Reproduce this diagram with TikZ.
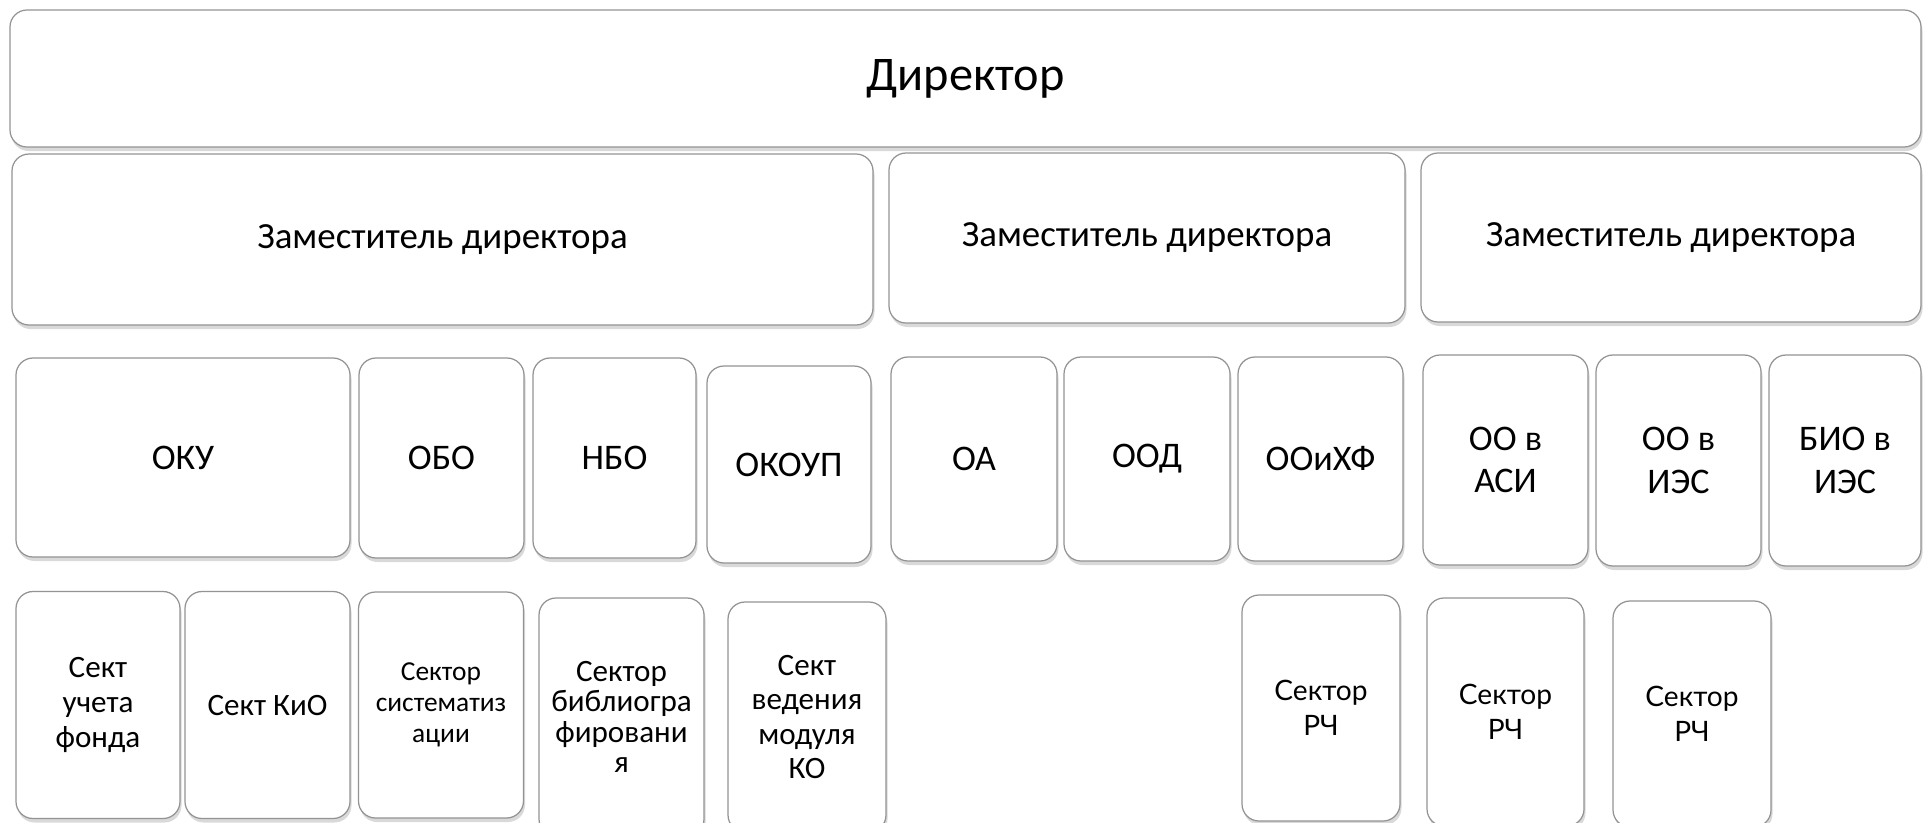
\documentclass[tikz,border=0pt]{standalone}
\usepackage{fontspec}
\setmainfont{Carlito}
\newfontfamily\rchfont{Lato}
\usetikzlibrary{shadows}

\begin{document}
\begin{tikzpicture}[x=0.2mm, y=-0.2mm,
  cell/.style={draw=gray!85, line width=0.7pt, fill=white, rounded corners=3.4mm,
    inner sep=0pt, align=center,
    drop shadow={opacity=0.3, shadow xshift=0.3mm, shadow yshift=-0.8mm}},
  boxsize/.style 2 args={minimum width=#1*0.2mm, minimum height=#2*0.2mm},
  deputy/.style={font=\fontsize{21}{26}\selectfont},
  dept/.style={font=\fontsize{20.5}{24}\selectfont},
  sect/.style={font=\fontsize{17.7}{19.7}\selectfont},
  rch/.style={font={\rchfont\fontsize{16}{19.8}\selectfont}}]
\useasboundingbox (0,0) rectangle (1924,822);

% director and deputies
\node[cell, boxsize={1911}{137}, font=\fontsize{27.5}{33}\selectfont] (dir) at (965.5,78.5) {Директор};
\node[cell, boxsize={861}{171}, deputy] (dep1) at (442.5,239.5) {Заместитель директора};
\node[cell, boxsize={516}{170}, deputy] (dep2) at (1147,238) {Заместитель директора};
\node[cell, boxsize={500}{169}, deputy] (dep3) at (1671,237.5) {Заместитель директора};

% departments
\node[cell, boxsize={334}{199}, dept] (oku) at (183,457.5) {ОКУ};
\node[cell, boxsize={165}{200}, dept] (obo) at (441.5,458) {ОБО};
\node[cell, boxsize={163}{200}, dept] (nbo) at (614.5,458) {НБО};
\node[cell, boxsize={164}{197}, dept] (okoup) at (789,464.5) {ОКОУП};
\node[cell, boxsize={166}{204}, dept] (oa) at (974,459) {ОА};
\node[cell, boxsize={166}{204}, dept] (ood) at (1147,459) {ООД};
\node[cell, boxsize={165}{204}, dept] (ooihf) at (1320.5,459) {ООиХФ};
\node[cell, boxsize={165}{210}, dept] (ooasi) at (1505.5,460) {ОО в\\АСИ};
\node[cell, boxsize={165}{211}, dept] (ooies) at (1678.5,460.5) {ОО в\\ИЭС};
\node[cell, boxsize={152}{211}, dept] (bioies) at (1845,460.5) {БИО в\\ИЭС};

% sectors
\node[cell, boxsize={164}{227}, sect] (suf) at (98,705) {Сект\\учета\\фонда};
\node[cell, boxsize={165}{227}, sect] (skio) at (267.5,705) {Сект КиО};
\node[cell, boxsize={165}{226}, font=\fontsize{15.6}{17.6}\selectfont] (ssist) at (441,705) {Сектор\\систематиз\\ации};
\node[cell, boxsize={165}{238}, font=\fontsize{17.7}{17.3}\selectfont] (sbib) at (621.5,717) {Сектор\\библиогра\\фировани\\я};
\node[cell, boxsize={158}{230}, sect] (svmk) at (807,717) {Сект\\ведения\\модуля\\КО};
\node[cell, boxsize={158}{226}, rch] (rch1) at (1321,708) {Сектор\\РЧ};
\node[cell, boxsize={157}{228}, rch] (rch2) at (1505.5,712) {Сектор\\РЧ};
\node[cell, boxsize={158}{226}, rch] (rch3) at (1692,714) {Сектор\\РЧ};
\end{tikzpicture}
\end{document}
